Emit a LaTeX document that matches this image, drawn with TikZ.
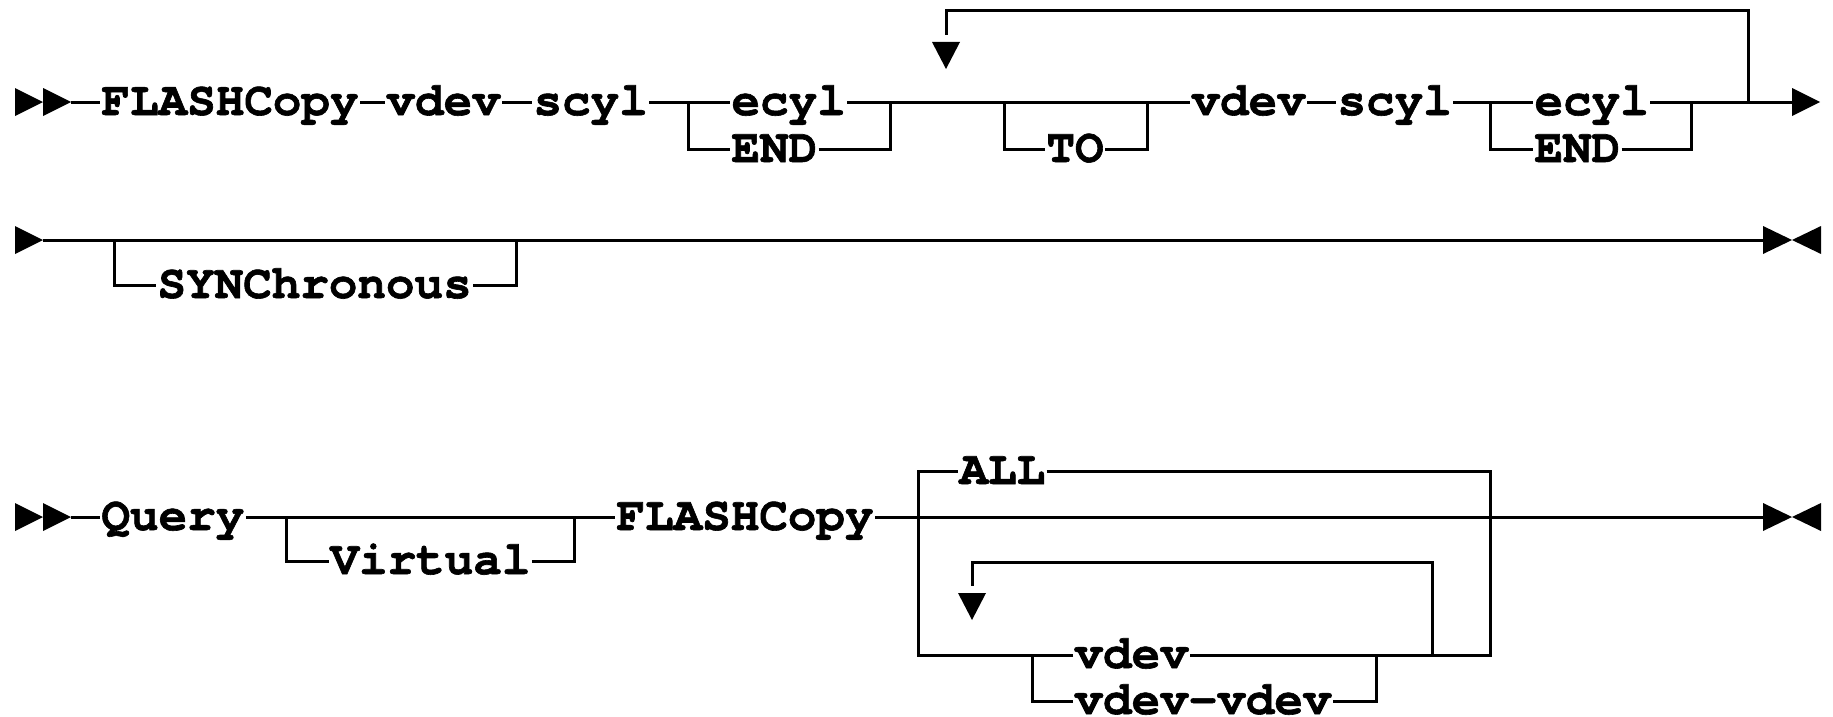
\documentclass[tikz,border=0pt]{standalone}
\usepackage{fontspec}
\newfontfamily\cur{texgyrecursor-bold.otf}[FakeBold=1.3]
\begin{document}
\begin{tikzpicture}[x=1pt,y=-1pt,line width=3pt,
  t/.style={font=\cur\fontsize{47.6}{50}\selectfont, inner sep=0pt, text height=27pt, text depth=1pt, anchor=west},
  tri/.style={fill=black, draw=none}]
\useasboundingbox (0,0) rectangle (1833,717);

% ---------------- Row 1 ----------------
\fill[tri] (15,88) -- (43,102) -- (15,116) -- cycle;
\fill[tri] (43,88) -- (71,102) -- (43,116) -- cycle;
\coordinate (s1) at (71,102);
\node[t] (fc1) at (100,102) {FLASHCopy};
\node[t] (vd1) at (385,102) {vdev};
\node[t] (sc1) at (532,102) {scyl};
\node[t] (ec1) at (730,102) {ecyl};
\node[t] (en1) at (730,149) {END};
\node[t] (to)  at (1045,149) {TO};
\node[t] (vd2) at (1190,102) {vdev};
\node[t] (sc2) at (1336,102) {scyl};
\node[t] (ec2) at (1533,102) {ecyl};
\node[t] (en2) at (1533,149) {END};
\coordinate (b1l) at (688,102);
\coordinate (b1r) at (890,102);
\coordinate (t1l) at (1004,102);
\coordinate (t1r) at (1147,102);
\coordinate (b2l) at (1490,102);
\coordinate (b2r) at (1691,102);
\coordinate (lr)  at (1748,102);
\coordinate (lt)  at (946,11);
\coordinate (la)  at (946,35);
\coordinate (e1)  at (1792,102);

\draw (s1) -- (fc1.west);
\draw (fc1) -- (vd1);
\draw (vd1) -- (sc1);
\draw (sc1.east) -- (ec1.west);
\draw (b1l) |- (en1.west);
\draw (en1.east) -| (b1r);
\draw (ec1.east) -- (vd2.west);
\draw (t1l) |- (to.west);
\draw (to.east) -| (t1r);
\draw (vd2) -- (sc2);
\draw (sc2.east) -- (ec2.west);
\draw (b2l) |- (en2.west);
\draw (en2.east) -| (b2r);
\draw (ec2.east) -- (e1);
\draw (lr) |- (lt) -- (la);
\fill[tri] (932,42) -- (960,42) -- (946,69) -- cycle;
\fill[tri] (1792,88) -- (1820,102) -- (1792,116) -- cycle;

% ---------------- Row 2 ----------------
\fill[tri] (15,226) -- (43,240) -- (15,254) -- cycle;
\coordinate (s2) at (43,240);
\coordinate (e2) at (1763,240);
\coordinate (c2l) at (114,240);
\coordinate (c2r) at (516,240);
\node[t] (syn) at (156,285) {SYNChronous};
\draw (s2) -- (e2);
\draw (c2l) |- (syn.west);
\draw (syn.east) -| (c2r);
\fill[tri] (1763,226) -- (1792,240) -- (1763,254) -- cycle;
\fill[tri] (1821,226) -- (1792,240) -- (1821,254) -- cycle;

% ---------------- Row 3 ----------------
\fill[tri] (15,503) -- (43,517) -- (15,531) -- cycle;
\fill[tri] (43,503) -- (71,517) -- (43,531) -- cycle;
\coordinate (s3) at (71,517);
\node[t] (q)   at (100,517) {Query};
\node[t] (vir) at (329,561) {Virtual};
\node[t] (fc3) at (615,517) {FLASHCopy};
\node[t] (all) at (958,471) {ALL};
\node[t] (vd3) at (1073,655) {vdev};
\node[t] (vv)  at (1073,701) {vdev-vdev};
\coordinate (v3l) at (286,517);
\coordinate (v3r) at (574,517);
\coordinate (blb) at (918,655);
\coordinate (brb) at (1490,655);
\coordinate (vvl) at (1032,655);
\coordinate (vvr) at (1376,655);
\coordinate (ilr) at (1432,655);
\coordinate (ilt) at (972,562);
\coordinate (ila) at (972,586);
\coordinate (e3)  at (1763,517);

\draw (s3) -- (q.west);
\draw (q.east) -- (fc3.west);
\draw (v3l) |- (vir.west);
\draw (vir.east) -| (v3r);
\draw (fc3.east) -- (e3);
\draw (vd3.west) -- (blb) |- (all.west);
\draw (all.east) -| (brb) -- (vd3.east);
\draw (vvl) |- (vv.west);
\draw (vv.east) -| (vvr);
\draw (ilr) |- (ilt) -- (ila);
\fill[tri] (958,593) -- (986,593) -- (972,620) -- cycle;
\fill[tri] (1763,503) -- (1792,517) -- (1763,531) -- cycle;
\fill[tri] (1821,503) -- (1792,517) -- (1821,531) -- cycle;
\end{tikzpicture}
\end{document}
